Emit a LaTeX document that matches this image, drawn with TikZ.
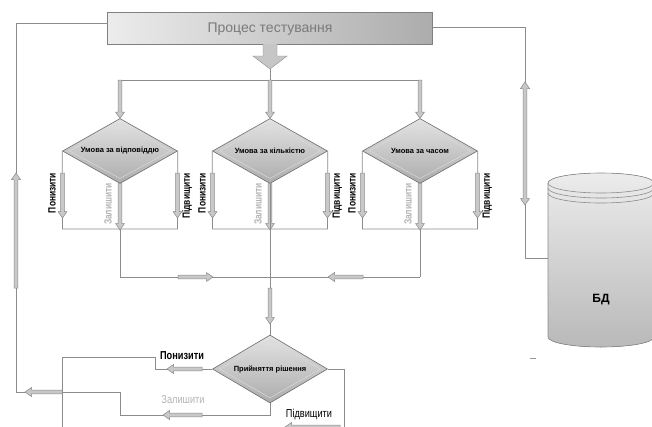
\documentclass[tikz,border=0pt]{standalone}
\usepackage{fontspec}
\setmainfont{Liberation Sans}
\newfontfamily\nar[FakeStretch=0.8]{Liberation Sans}
\usetikzlibrary{shapes.geometric}
\definecolor{ln}{HTML}{8C8C8C}
\definecolor{afill}{HTML}{C8C8C8}
\definecolor{aline}{HTML}{8A8A8A}
\definecolor{lt}{HTML}{B4B4B4}
\definecolor{ptxt}{HTML}{7A7A7A}
\newcommand\bav[3]{\pgfmathsetmacro\bs{sign(#3-#2)}%
  \filldraw[blk] ({#1-1.8},{#2}) -- ({#1-1.8},{#3-6.5*\bs}) -- ({#1-4.5},{#3-6.5*\bs}) -- ({#1},{#3}) -- ({#1+4.5},{#3-6.5*\bs}) -- ({#1+1.8},{#3-6.5*\bs}) -- ({#1+1.8},{#2}) -- cycle;}
\newcommand\bah[3]{\pgfmathsetmacro\bs{sign(#3-#2)}%
  \filldraw[blk] ({#2},{#1-1.8}) -- ({#3-6.5*\bs},{#1-1.8}) -- ({#3-6.5*\bs},{#1-4.5}) -- ({#3},{#1}) -- ({#3-6.5*\bs},{#1+4.5}) -- ({#3-6.5*\bs},{#1+1.8}) -- ({#2},{#1+1.8}) -- cycle;}
\newcommand\bad[3]{%
  \filldraw[blk] ({#1-1.8},{#2+6.5}) -- ({#1-4.5},{#2+6.5}) -- ({#1},{#2}) -- ({#1+4.5},{#2+6.5}) -- ({#1+1.8},{#2+6.5}) -- ({#1+1.8},{#3-6.5}) -- ({#1+4.5},{#3-6.5}) -- ({#1},{#3}) -- ({#1-4.5},{#3-6.5}) -- ({#1-1.8},{#3-6.5}) -- cycle;}
\tikzset{
  conn/.style={draw=ln, line width=0.7pt},
  blk/.style={fill=afill, draw=aline, line width=0.5pt, line join=miter},
  cond/.style={diamond, minimum width=115pt, minimum height=65pt, inner sep=0pt,
    draw=gray!85!black, line width=0.6pt, top color=gray!22, bottom color=gray!65},
  condin/.style={diamond, minimum width=101pt, minimum height=55pt, inner sep=0pt,
    draw=white!70!gray, line width=0.5pt},
  ctext/.style={font=\bfseries\fontsize{7.5}{8}\selectfont, inner sep=0pt},
  vlab/.style={rotate=90, font=\nar\bfseries\fontsize{10.5}{11}\selectfont, inner sep=0pt},
  hlab/.style={font=\nar\fontsize{11.5}{12}\selectfont, inner sep=0pt},
}
\begin{document}
\begin{tikzpicture}[x=1pt,y=-1pt]
\useasboundingbox[fill=white] (0,0) rectangle (652,426);
% process box
\node[rectangle, minimum width=325pt, minimum height=32pt, inner sep=0pt,
  draw=gray, left color=gray!15, right color=gray!65] (proc) at (270,28) {};
\node[font=\fontsize{14}{15}\selectfont, text=ptxt] (proct) at (270,29) {Процес тестування};
% big arrow
\filldraw[fill=gray!45, draw=gray!90] (263,44) -- (263,56) -- (253,56) -- (270,69) -- (287,56) -- (277,56) -- (277,44);
\coordinate (tip) at (270,69);
\coordinate (bar) at (270,80);
\draw[conn] (tip) -- (bar);
\draw[conn] (120,80) -- (420,80);
% condition diamonds
\foreach \cx/\nm/\tx in {120/c1/{Умова за відповіддю}, 270/c2/{Умова за кількістю}, 420/c3/{Умова за часом}}{
  \node[cond] (\nm) at (\cx,151) {};
  \node[condin] (\nm i) at (\cx,151) {};
  \node[ctext] (\nm t) at (\cx,151) {\tx};
  \draw[conn] (\nm.west) -- ({\cx-57.5},229) -- ({\cx+57.5},229) -- (\nm.east);
  \draw[conn] (\nm.south) -- (\cx,277);
  \bav{\cx}{80}{118.5}
  \bav{\cx-57.5}{173}{218}
  \bav{\cx+57.5}{173}{218}
  \bav{\cx}{183.5}{230}
  \node[vlab] (\nm a) at ({\cx-68},193) {Понизити};
  \node[vlab, text=lt] (\nm b) at ({\cx-12},204) {Залишити};
  \node[vlab] (\nm c) at ({\cx+67},196) {Підвищити};
}
% collecting bar
\draw[conn] (120,277) -- (420,277);
\bah{277}{178}{213}
\bah{277}{363}{328}
% decision
\node[cond, minimum height=68pt] (dec) at (270,369) {};
\node[condin, minimum height=58pt] (deci) at (270,369) {};
\node[ctext] (dect) at (270,369) {Прийняття рішення};
\draw[conn] (c2.south) -- (dec.north);
\bav{270}{288}{324}
% decision outputs
\draw[conn] (dec.west) -- (155,369) -- (155,357) -- (62,357) -- (62,432);
\bah{369}{202}{167}
\node[hlab] (l1) at (182,356) {\bfseries Понизити};
\draw[conn] (dec.south) -- (270,415) -- (120,415) -- (120,392) -- (16,392);
\bah{415}{202}{163}
\node[hlab, text=lt] (l2) at (183,400) {Залишити};
\draw[conn] (dec.east) -- (344,369) -- (344,432);
\bah{427}{340}{285}
\node[hlab] (l3) at (309,414) {Підвищити};
% feedback loop
\coordinate (pl) at (107.5,23);
\draw[conn] (pl) -- (16,23) -- (16,392);
\bav{16}{288}{173}
\bah{392}{62}{25}
% database
\fill[top color=gray!15, bottom color=gray!55] (548,183) -- (548,337)
  arc[start angle=180, end angle=360, x radius=53pt, y radius=10pt] -- (654,183)
  arc[start angle=0, end angle=180, x radius=53pt, y radius=10pt] -- cycle;
\draw[draw=gray!90, line width=0.6pt] (548,183) -- (548,337)
  arc[start angle=180, end angle=360, x radius=53pt, y radius=10pt] -- (654,183)
  arc[start angle=0, end angle=180, x radius=53pt, y radius=10pt];
\draw[draw=gray!90, line width=0.6pt] (548,183) arc[start angle=180, end angle=360, x radius=53pt, y radius=10pt];
\draw[draw=gray!90, line width=0.6pt] (548,188) arc[start angle=180, end angle=360, x radius=53pt, y radius=10pt];
\draw[draw=gray!90, line width=0.6pt] (548,193) arc[start angle=180, end angle=360, x radius=53pt, y radius=10pt];
\node[font=\bfseries\fontsize{12}{13}\selectfont] (db) at (601,300) {БД};
\coordinate (dbw) at (548,258);
\draw[conn] (proc.east |- 0,27) -- (525,27) -- (525,258) -- (dbw);
\bad{525}{82}{205}
% small dash
\draw[draw=gray!80, line width=0.8pt] (530,358) -- (536,358);
\end{tikzpicture}
\end{document}
